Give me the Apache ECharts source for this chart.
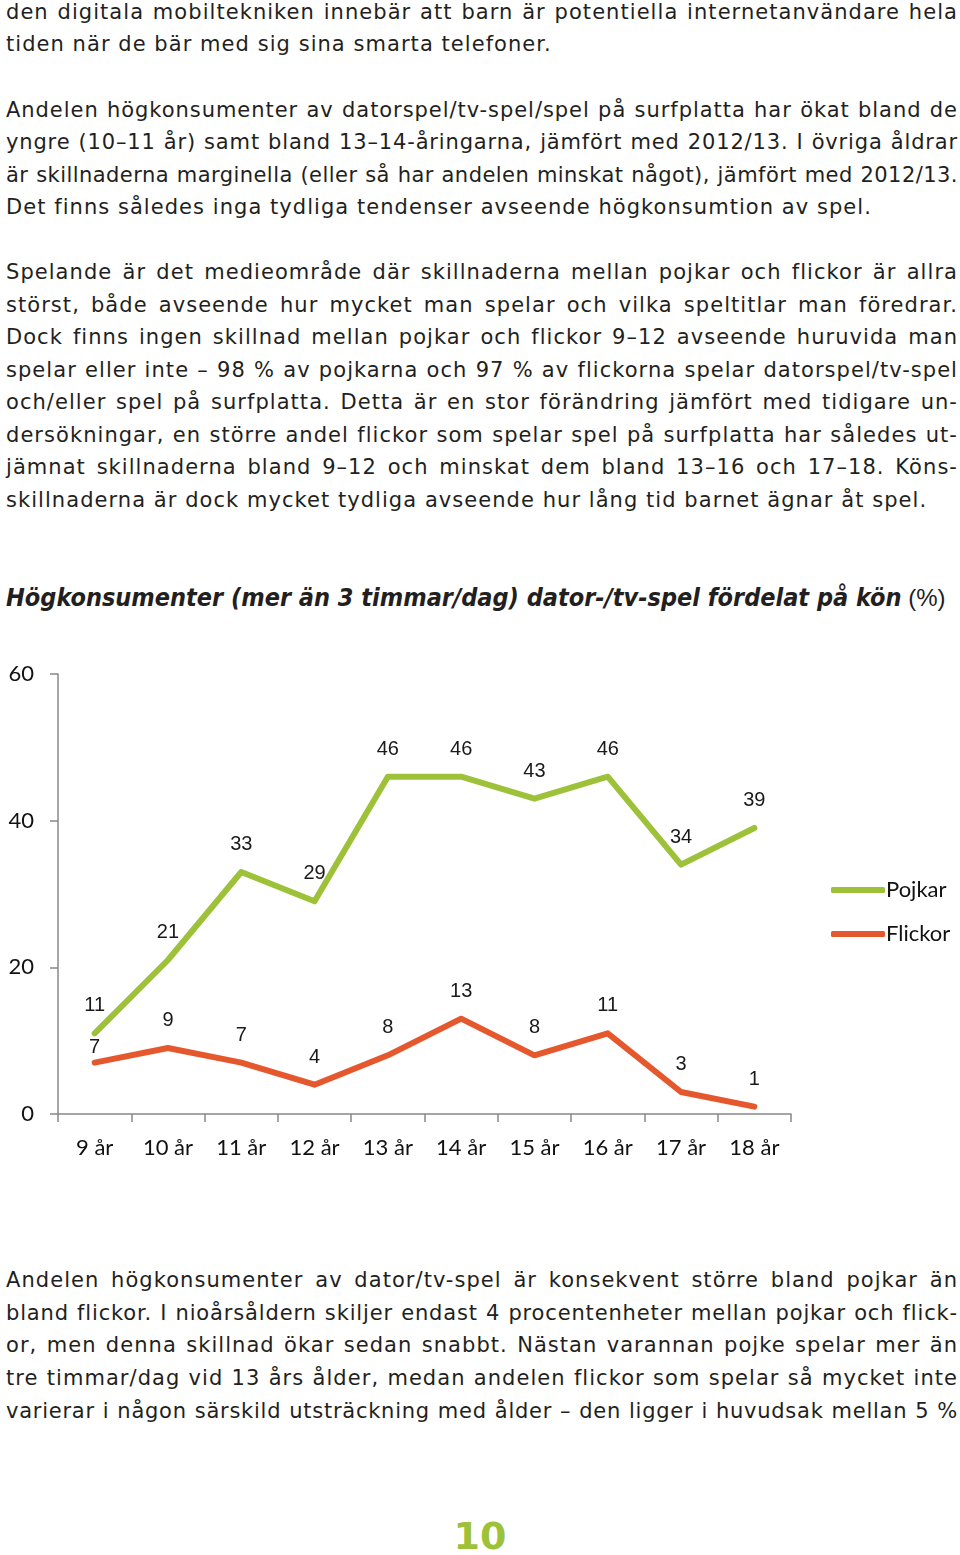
<!DOCTYPE html>
<html><head><meta charset="utf-8">
<script src="https://cdn.jsdelivr.net/npm/echarts@6/dist/echarts.min.js"></script>
<style>
html,body{margin:0;padding:0;background:#fff;}
body{width:960px;height:1555px;position:relative;overflow:hidden;font-family:"DejaVu Sans",sans-serif;color:#231f20;}
.ln{position:absolute;left:6px;width:952px;font-size:21px;letter-spacing:1.05px;line-height:26px;white-space:nowrap;text-align:justify;text-align-last:justify;}
.ln.l{text-align-last:left;}
#title{position:absolute;left:6px;top:583px;font-size:25px;line-height:30px;white-space:nowrap;}
#title b{font-family:"DejaVu Sans Condensed","DejaVu Sans",sans-serif;font-weight:bold;font-style:italic;}
#title span{font-family:"Liberation Sans",sans-serif;font-size:24px;}
#pn{position:absolute;left:0;width:960px;top:1514px;text-align:center;font-size:38px;font-weight:bold;color:#9dc23a;font-family:"DejaVu Sans",sans-serif;}
#chart{position:absolute;left:0;top:640px;width:960px;height:540px;}
</style></head>
<body>
<div id="text"></div>
<div id="title"><b>Högkonsumenter (mer än 3 timmar/dag) dator-/tv-spel fördelat på kön</b><span> (%)</span></div>
<div id="chart"></div>
<div id="pn">10</div>
<script>
var categories = ['9 år','10 år','11 år','12 år','13 år','14 år','15 år','16 år','17 år','18 år'];
var pojkar = [11, 21, 33, 29, 46, 46, 43, 46, 34, 39];
var flickor = [7, 9, 7, 4, 8, 13, 8, 11, 3, 1];
var yTicks = [0, 20, 40, 60];

var lines = [
 [12,'den digitala mobiltekniken innebär att barn är potentiella internetanvändare hela',0],
 [44,'tiden när de bär med sig sina smarta telefoner.',1],
 [110,'Andelen högkonsumenter av datorspel/tv-spel/spel på surfplatta har ökat bland de',0],
 [142,'yngre (10–11 år) samt bland 13–14-åringarna, jämfört med 2012/13. I övriga åldrar',0],
 [175,'är skillnaderna marginella (eller så har andelen minskat något), jämfört med 2012/13.',0],
 [207,'Det finns således inga tydliga tendenser avseende högkonsumtion av spel.',1],
 [272,'Spelande är det medieområde där skillnaderna mellan pojkar och flickor är allra',0],
 [305,'störst, både avseende hur mycket man spelar och vilka speltitlar man föredrar.',0],
 [337,'Dock finns ingen skillnad mellan pojkar och flickor 9–12 avseende huruvida man',0],
 [370,'spelar eller inte – 98 % av pojkarna och 97 % av flickorna spelar datorspel/tv-spel',0],
 [402,'och/eller spel på surfplatta. Detta är en stor förändring jämfört med tidigare un-',0],
 [435,'dersökningar, en större andel flickor som spelar spel på surfplatta har således ut-',0],
 [467,'jämnat skillnaderna bland 9–12 och minskat dem bland 13–16 och 17–18. Köns-',0],
 [500,'skillnaderna är dock mycket tydliga avseende hur lång tid barnet ägnar åt spel.',1],
 [1280,'Andelen högkonsumenter av dator/tv-spel är konsekvent större bland pojkar än',0],
 [1313,'bland flickor. I nioårsåldern skiljer endast 4 procentenheter mellan pojkar och flick-',0],
 [1345,'or, men denna skillnad ökar sedan snabbt. Nästan varannan pojke spelar mer än',0],
 [1378,'tre timmar/dag vid 13 års ålder, medan andelen flickor som spelar så mycket inte',0],
 [1411,'varierar i någon särskild utsträckning med ålder – den ligger i huvudsak mellan 5 %',0]
];
var t = document.getElementById('text');
lines.forEach(function(l){
  var d = document.createElement('div');
  d.className = 'ln' + (l[2] ? ' l' : '');
  d.style.top = (l[0] - 13) + 'px';
  d.textContent = l[1];
  t.appendChild(d);
  var ls = 1.05;
  while (d.scrollWidth > 952 && ls > -1) { ls -= 0.1; d.style.letterSpacing = ls + 'px'; }
});

var chart = echarts.init(document.getElementById('chart'), null, {renderer:'canvas'});
var axisFont = '"Lato","Open Sans",sans-serif';
function labelStyle(){
  return {show:true, position:'top', distance:17, fontFamily:'"Liberation Sans",Arial,sans-serif', fontSize:20, color:'#1a1a1a'};
}
var flickorData = flickor.map(function(v,i){
  return i === 0 ? {value:v, label:{distance:5}} : v;
});
chart.setOption({
  animation:false,
  grid:{left:58, right:169, top:34, bottom:66},
  legend:{
    orient:'vertical', left:826, top:234, itemWidth:54, itemHeight:6, itemGap:22,
    icon:'roundRect',
    textStyle:{fontFamily:axisFont, fontSize:22, color:'#111', padding:[0,0,0,-4]},
    data:['Pojkar','Flickor']
  },
  xAxis:{
    type:'category', data:categories, boundaryGap:true,
    axisLine:{lineStyle:{color:'#888', width:1.5}},
    axisTick:{show:true, length:8, lineStyle:{color:'#888', width:1.5}},
    axisLabel:{margin:23, fontFamily:axisFont, fontSize:22, color:'#111'}
  },
  yAxis:{
    type:'value', min:0, max:60, interval:20,
    axisLine:{show:true, lineStyle:{color:'#888', width:1.5}},
    axisTick:{show:true, length:8, lineStyle:{color:'#888', width:1.5}},
    splitLine:{show:false},
    axisLabel:{margin:24, fontFamily:axisFont, fontSize:22, color:'#111',
      formatter:function(v){ return yTicks.indexOf(v) >= 0 ? String(v) : ''; }}
  },
  series:[
    {name:'Pojkar', type:'line', data:pojkar, symbol:'circle', symbolSize:1, showSymbol:true, color:'#9dc23a',
     itemStyle:{color:'#9dc23a'},
     lineStyle:{width:6, color:'#9dc23a', cap:'round', join:'round'}, label:labelStyle()},
    {name:'Flickor', type:'line', data:flickorData, symbol:'circle', symbolSize:1, showSymbol:true, color:'#e5582e',
     itemStyle:{color:'#e5582e'},
     lineStyle:{width:6, color:'#e5582e', cap:'round', join:'round'}, label:labelStyle()}
  ]
});
</script>
</body></html>
